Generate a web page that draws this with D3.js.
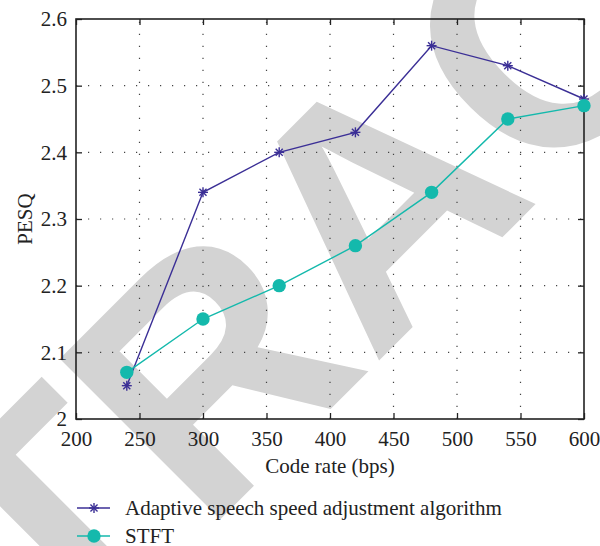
<!doctype html>
<html lang="en">
  <head>
    <meta charset="utf-8">
    <title>PESQ vs code rate</title>
    <script src="https://cdn.jsdelivr.net/npm/d3@7"></script>
    <style>
      body { margin: 0; background: #fff; }
      text { font-family: "Liberation Serif", "DejaVu Serif", serif; fill: #222; }
    </style>
  </head>
  <body>
    <script>
      const codeRates = [240, 300, 360, 420, 480, 540, 600];
      const adaptive = [2.05, 2.34, 2.40, 2.43, 2.56, 2.53, 2.48];
      const stft = [2.07, 2.15, 2.20, 2.26, 2.34, 2.45, 2.47];
      const xTicks = [200, 250, 300, 350, 400, 450, 500, 550, 600];
      const yTicks = [2, 2.1, 2.2, 2.3, 2.4, 2.5, 2.6];
      const seriesNames = ["Adaptive speech speed adjustment algorithm", "STFT"];

      const w = 600;
      const h = 546;
      const padL = 76, padR = 584, padT = 19, padB = 419;
      const blue = "#3b2f96";
      const teal = "#14b9ac";
      const fs = "21px";

      const xScale = d3.scaleLinear().domain([200, 600]).range([padL, padR]);
      const yScale = d3.scaleLinear().domain([2, 2.6]).range([padB, padT]);

      const svg = d3.select("body")
                    .append("svg")
                    .attr("width", w)
                    .attr("height", h);

      // watermark
      svg.append("text")
         .attr("transform", "rotate(-45)")
         .attr("x", 124)
         .attr("y", 523)
         .attr("text-anchor", "middle")
         .style("font-family", "'Liberation Sans', Arial, sans-serif")
         .style("font-weight", "bold")
         .style("font-size", "330px")
         .style("fill", "#d3d3d3")
         .text("RETRACTED");

      // grid
      const grid = svg.append("g")
                      .attr("stroke", "#444")
                      .attr("stroke-width", 1.2)
                      .attr("stroke-dasharray", "1.2,10.8");
      grid.selectAll(".gx")
          .data(xTicks.slice(1, -1))
          .enter()
          .append("line")
          .attr("x1", d => xScale(d)).attr("x2", d => xScale(d))
          .attr("y1", padB).attr("y2", padT);
      grid.selectAll(".gy")
          .data(yTicks.slice(1, -1))
          .enter()
          .append("line")
          .attr("x1", padL).attr("x2", padR)
          .attr("y1", d => yScale(d)).attr("y2", d => yScale(d));

      // axes, ticks pointing inward on all four sides
      const tickLen = 6;
      const fmtY = d => d === 2 ? "2" : d3.format(".1f")(d);
      svg.append("g")
         .attr("transform", "translate(0," + padB + ")")
         .call(d3.axisBottom(xScale).tickValues(xTicks).tickSize(-tickLen).tickPadding(12))
         .call(g => g.select(".domain").remove());
      svg.append("g")
         .attr("transform", "translate(0," + padT + ")")
         .call(d3.axisTop(xScale).tickValues(xTicks).tickSize(-tickLen).tickFormat(""))
         .call(g => g.select(".domain").remove());
      svg.append("g")
         .attr("transform", "translate(" + padL + ",0)")
         .call(d3.axisLeft(yScale).tickValues(yTicks).tickSize(-tickLen).tickPadding(9).tickFormat(fmtY))
         .call(g => g.select(".domain").remove());
      svg.append("g")
         .attr("transform", "translate(" + padR + ",0)")
         .call(d3.axisRight(yScale).tickValues(yTicks).tickSize(-tickLen).tickFormat(""))
         .call(g => g.select(".domain").remove());
      svg.selectAll(".tick line").attr("stroke", "#222").attr("stroke-width", 1.3);
      svg.selectAll(".tick text")
         .style("font-family", "'Liberation Serif', serif")
         .style("font-size", fs)
         .style("fill", "#222");

      svg.append("rect")
         .attr("x", padL).attr("y", padT)
         .attr("width", padR - padL).attr("height", padB - padT)
         .attr("fill", "none")
         .attr("stroke", "#222")
         .attr("stroke-width", 1.6);

      // axis titles
      svg.append("text")
         .attr("x", (padL + padR) / 2)
         .attr("y", 473)
         .attr("text-anchor", "middle")
         .style("font-size", fs)
         .text("Code rate (bps)");
      svg.append("text")
         .attr("transform", "translate(32," + (padT + padB) / 2 + ") rotate(-90)")
         .attr("text-anchor", "middle")
         .style("font-size", fs)
         .text("PESQ");

      const line = d3.line()
                     .x((d, i) => xScale(codeRates[i]))
                     .y(d => yScale(d));

      function asterisk(g, x, y, r, color) {
        const a = g.append("g")
                   .attr("transform", "translate(" + x + "," + y + ")")
                   .attr("stroke", color)
                   .attr("stroke-width", 1.4);
        [0, 45, 90, 135].forEach(ang => {
          const rad = ang * Math.PI / 180;
          a.append("line")
           .attr("x1", -r * Math.cos(rad)).attr("y1", -r * Math.sin(rad))
           .attr("x2", r * Math.cos(rad)).attr("y2", r * Math.sin(rad));
        });
      }

      // adaptive series
      svg.append("path")
         .datum(adaptive)
         .attr("d", line)
         .attr("fill", "none")
         .attr("stroke", blue)
         .attr("stroke-width", 1.4);
      adaptive.forEach((d, i) => asterisk(svg, xScale(codeRates[i]), yScale(d), 5, blue));

      // STFT series
      svg.append("path")
         .datum(stft)
         .attr("d", line)
         .attr("fill", "none")
         .attr("stroke", teal)
         .attr("stroke-width", 1.4);
      svg.selectAll(".dot")
         .data(stft)
         .enter()
         .append("circle")
         .attr("cx", (d, i) => xScale(codeRates[i]))
         .attr("cy", d => yScale(d))
         .attr("r", 6.7)
         .attr("fill", teal);

      // legend
      const legY = [508, 536];
      [blue, teal].forEach((c, i) => {
        svg.append("line")
           .attr("x1", 77).attr("x2", 110)
           .attr("y1", legY[i]).attr("y2", legY[i])
           .attr("stroke", c)
           .attr("stroke-width", 1.4);
        if (i === 0) {
          asterisk(svg, 94, legY[i], 5, c);
        } else {
          svg.append("circle").attr("cx", 94).attr("cy", legY[i]).attr("r", 6.7).attr("fill", c);
        }
        svg.append("text")
           .attr("x", 125)
           .attr("y", legY[i] + 7)
           .style("font-size", fs)
           .text(seriesNames[i]);
      });
    </script>
  </body>
</html>
